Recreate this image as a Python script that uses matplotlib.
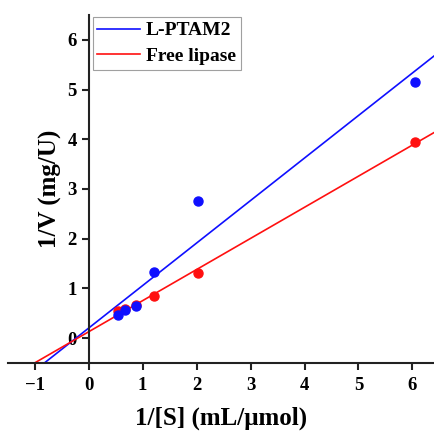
import numpy as np
import matplotlib
matplotlib.use("Agg")
import matplotlib.pyplot as plt

plt.rcParams['font.family'] = ['Liberation Serif', 'DejaVu Serif']
plt.rcParams['font.weight'] = 'bold'

# Lineweaver-Burk data, 1/[S] vs 1/V
inv_s = [0.54, 0.67, 0.87, 1.21, 2.02, 6.04]
inv_v_ptam = [0.47, 0.56, 0.65, 1.33, 2.75, 5.16]
inv_v_free = [0.55, 0.58, 0.66, 0.84, 1.30, 3.94]

series = [("L-PTAM2", inv_v_ptam, "#0f0fff"), ("Free lipase", inv_v_free, "#ff1010")]

fig = plt.figure(figsize=(4.34, 4.32), dpi=100)
ax = fig.add_axes([0.018, 0.16, 0.982, 0.805])

xlim = (-1.5, 6.4)
xx = np.linspace(xlim[0], xlim[1], 50)
for name, yv, c in series:
    k, b = np.polyfit(inv_s, yv, 1)
    ax.plot(xx, k * xx + b, color=c, lw=1.2, label=name)
for name, yv, c in series[::-1]:
    ax.plot(inv_s, yv, 'o', color=c, ms=6.5, zorder=3)

ax.set_xlim(*xlim)
ax.set_ylim(-0.5, 6.5)
ax.set_xticks(range(-1, 7))
ax.set_yticks(range(0, 7))

ax.spines['left'].set_position(('data', 0))
ax.spines['top'].set_visible(False)
ax.spines['right'].set_visible(False)
for s in ['left', 'bottom']:
    ax.spines[s].set_linewidth(1.5)
    ax.spines[s].set_color('#222222')
ax.tick_params(width=1.5, length=5, labelsize=13.5, color='#222222')
ax.tick_params(axis='x', pad=5)

ax.set_xlabel("1/[S] (mL/μmol)", fontsize=18, fontweight='bold', labelpad=9)
ax.set_ylabel("1/V (mg/U)", fontsize=18, fontweight='bold', labelpad=4)

leg = ax.legend(loc='upper left', bbox_to_anchor=(0.199, 0.995), fontsize=14,
                frameon=True, fancybox=False, edgecolor='#888888',
                handlelength=2.2, borderpad=0.25, labelspacing=0.4,
                handletextpad=0.3, borderaxespad=0.0)
leg.get_frame().set_linewidth(0.8)

fig.savefig("out.png", dpi=100)
